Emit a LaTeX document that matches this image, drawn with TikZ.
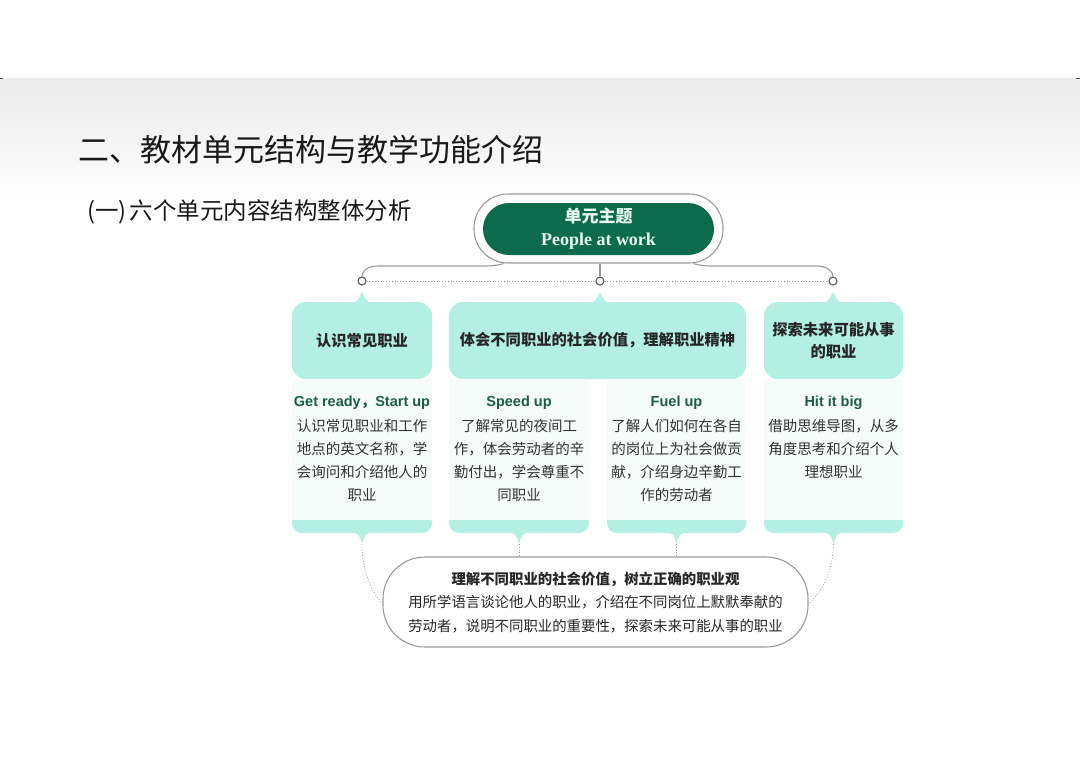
\documentclass[tikz,border=0pt]{standalone}
\usepackage{fontspec}
\setmainfont{Noto Sans CJK SC}
\newfontfamily\cjk{Noto Sans CJK SC}
\newfontfamily\arialf{Liberation Sans}
\newfontfamily\timesf{Liberation Serif}
\definecolor{cyanc}{HTML}{B4EFE3}
\definecolor{cardc}{HTML}{F5FCFA}
\definecolor{darkg}{HTML}{0C6A4D}
\definecolor{headg}{HTML}{1D5E46}
\definecolor{textc}{HTML}{333333}
\definecolor{linec}{HTML}{9A9A9A}
\definecolor{mintw}{HTML}{E9FBF2}
\tikzset{
  conn/.style={draw=linec, line width=1.1pt},
  dotline/.style={draw=linec, line width=0.8pt, dotted},
  ring/.style={circle, draw=black!65, fill=white, line width=1.1pt, minimum size=8pt, inner sep=0pt},
  topbox/.style={fill=cyanc, rounded corners=14pt, inner sep=0pt, text=black!85, align=center,
     font=\fontsize{15.3}{22}\selectfont\bfseries},
  cardhead/.style={inner sep=0pt, text=headg, font=\fontsize{14.5}{17}\selectfont\arialf\bfseries},
  cardbody/.style={inner sep=0pt, anchor=north, align=center, text=textc, font=\fontsize{14.5}{23}\selectfont},
}
\begin{document}
\begin{tikzpicture}[x=1pt,y=-1pt]
\useasboundingbox (0,0) rectangle (1080,764);
\fill[white] (0,0) rectangle (1080,764);
% header band
\shade[top color=black!8, bottom color=white] (0,78) rectangle (1080,200);
\draw[black!70, line width=1pt] (0,78) -- (3,78);
\draw[black!70, line width=1pt] (1076,78) -- (1080,78);
% titles
\node[anchor=west, inner sep=0pt, text=black!90, font=\fontsize{31}{36}\selectfont] (title) at (78,150) {二、教材单元结构与教学功能介绍};
\node[anchor=west, inner sep=0pt, text=black!90, font=\fontsize{23.5}{28}\selectfont] (subtitle) at (87,212) {(一)\hspace{3pt}六个单元内容结构整体分析};

% theme pill
\node[draw=linec, line width=1.1pt, fill=white, rounded corners=34pt, minimum width=249pt, minimum height=69pt, inner sep=0pt] (themebg) at (598.5,228.5) {};
\node[fill=darkg, rounded corners=26pt, minimum width=231pt, minimum height=52pt, inner sep=0pt, align=center, text=mintw, font=\fontsize{18}{23}\selectfont\bfseries] (theme) at (598.5,229)
  {{\fontsize{17}{23}\selectfont 单元主题}\\{\timesf People at work}};

% rings
\node[ring] (d1) at (362,281) {};
\node[ring] (d2) at (600,281) {};
\node[ring] (d3) at (833,281) {};
\draw[conn] ([xshift=-95pt]themebg.south) .. controls (495,266) and (490,266) .. (480,266) -- (378,266) .. controls (366,266) and (362,272) .. (d1.north);
\draw[conn] ([xshift=95pt]themebg.south) .. controls (702,266) and (707,266) .. (717,266) -- (816,266) .. controls (828,266) and (833,272) .. (d3.north);
\draw[conn] (themebg.south -| d2) -- (d2.north);
\draw[dotline] (d1.east) -- (d2.west);
\draw[dotline] (d2.east) -- (d3.west);

% top cyan boxes
\node[topbox, minimum width=140pt, minimum height=77pt] (t1) at (362,340.5) {认识常见职业};
\node[topbox, minimum width=297pt, minimum height=77pt] (t2) at (597.5,340.5) {体会不同职业的社会价值，理解职业精神};
\node[topbox, minimum width=139pt, minimum height=77pt] (t3) at (833.5,340.5) {探索未来可能从事\\的职业};
\foreach \t/\x in {t1/362,t2/600,t3/833}{
  \fill[cyanc] (\x-12,303) .. controls (\x-5,302) .. (\x,292) .. controls (\x+5,302) .. (\x+12,303) -- cycle;
}

% cards
\foreach \i/\xa/\xb in {1/292/432,2/449/589,3/607/746,4/764/903}{
  \fill[cardc] (\xa,379) rectangle (\xb,520);
  \fill[cyanc] (\xa,520) {[rounded corners=10pt] -- (\xa,533) -- (\xb,533)} -- (\xb,520) -- cycle;
  \fill[cyanc] ({(\xa+\xb)/2-10},532) .. controls ({(\xa+\xb)/2-3},534) .. ({(\xa+\xb)/2},544) .. controls ({(\xa+\xb)/2+3},534) .. ({(\xa+\xb)/2+10},532) -- cycle;
  \coordinate (p\i) at ({(\xa+\xb)/2},544);
}
\node[cardhead] (h1) at (362,403) {Get ready{\cjk ，}Start up};
\node[cardhead] (h2) at (519,403) {Speed up};
\node[cardhead] (h3) at (676.5,403) {Fuel up};
\node[cardhead] (h4) at (833.5,403) {Hit it big};
\node[cardbody] (b1) at (362,419) {认识常见职业和工作\\地点的英文名称，学\\会询问和介绍他人的\\职业};
\node[cardbody] (b2) at (519,419) {了解常见的夜间工\\作，体会劳动者的辛\\勤付出，学会尊重不\\同职业};
\node[cardbody] (b3) at (676.5,419) {了解人们如何在各自\\的岗位上为社会做贡\\献，介绍身边辛勤工\\作的劳动者};
\node[cardbody] (b4) at (833.5,419) {借助思维导图，从多\\角度思考和介绍个人\\理想职业};

% summary pill
\node[draw=linec, line width=1.1pt, fill=white, rounded corners=42pt, minimum width=425pt, minimum height=90pt, inner sep=0pt, align=center, text=black!85, font=\fontsize{14.4}{23.5}\selectfont] (sum) at (595.5,602)
  {{\bfseries 理解不同职业的社会价值，树立正确的职业观}\\
   用所学语言谈论他人的职业，介绍在不同岗位上默默奉献的\\
   劳动者，说明不同职业的重要性，探索未来可能从事的职业};
\draw[dotline] (p1) .. controls (362,572) and (372,592) .. ([yshift=-2pt]sum.west);
\draw[dotline] (p2) -- (p2 |- sum.north);
\draw[dotline] (p3) -- (p3 |- sum.north);
\draw[dotline] (p4) .. controls (833,572) and (822,592) .. ([yshift=-2pt]sum.east);
\end{tikzpicture}
\end{document}
